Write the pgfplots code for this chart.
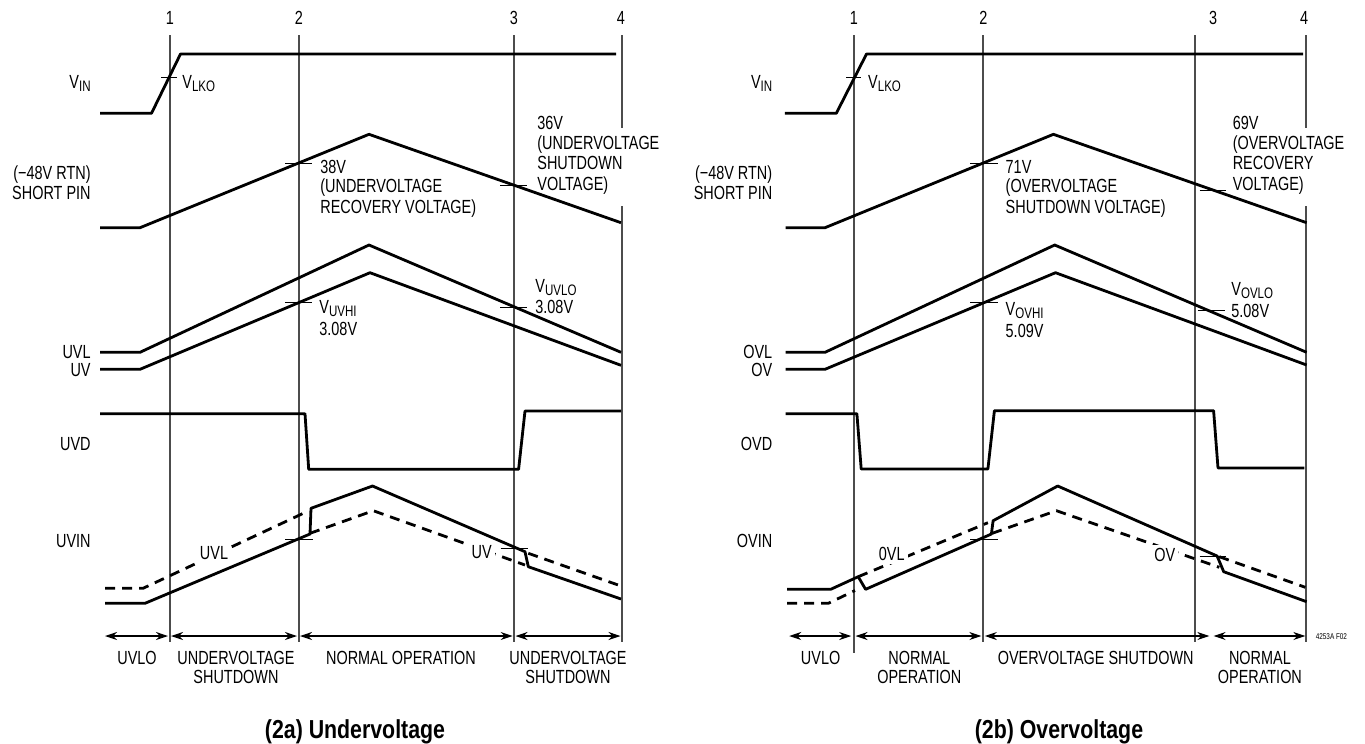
\documentclass[border=0pt]{standalone}
\usepackage{pgfplots}
\pgfplotsset{compat=1.18}
\usepackage{fontspec}
\setmainfont{Liberation Sans}[FakeStretch=0.76]
\newfontfamily\titlefont{Liberation Sans}[FakeStretch=0.82]
\usetikzlibrary{arrows.meta}
\newcommand{\sub}[1]{\raisebox{-0.3ex}{\fontsize{7.6}{8}\selectfont #1}}
\tikzset{
  trace/.style={black,line width=1.4pt,line join=round,no markers},
  dashtrace/.style={trace,dash pattern=on 5pt off 3.5pt},
  guide/.style={black!70,line width=0.6pt,no markers},
  tickl/.style={black,line width=0.5pt,no markers},
  span/.style={black,line width=0.6pt,no markers,{Stealth[length=6pt,width=4pt]}-{Stealth[length=6pt,width=4pt]}},
  lbl/.style={inner sep=0pt,font=\fontsize{9.5}{10}\selectfont},
  wl/.style={lbl,fill=white,inner sep=1.5pt},
  ttl/.style={inner sep=0pt,font=\titlefont\bfseries\fontsize{13}{14}\selectfont},
}
\begin{document}
\begin{tikzpicture}
\begin{axis}[width=682.5pt,height=371pt,scale only axis,
  xmin=0,xmax=1365,ymin=0,ymax=742,y dir=reverse,hide axis,clip=false]
% ---------- guide lines (left)
\addplot[guide] coordinates {(170,35) (170,642)};
\addplot[guide] coordinates {(299,35) (299,642)};
\addplot[guide] coordinates {(514,35) (514,642)};
\addplot[guide] coordinates {(622,35) (622,128)};
\addplot[guide] coordinates {(622,206) (622,642)};
% ---------- guide lines (right)
\addplot[guide] coordinates {(854,35) (854,653)};
\addplot[guide] coordinates {(983,35) (983,642)};
\addplot[guide] coordinates {(1195,35) (1195,642)};
\addplot[guide] coordinates {(1306,35) (1306,128)};
\addplot[guide] coordinates {(1306,206) (1306,642)};

% ================= LEFT PANEL (2a)
\addplot[trace] coordinates {(100,113.3) (151.5,113.3) (180.5,54) (616,54)};
\addplot[tickl] coordinates {(161,77.7) (177,77.7)};
\addplot[trace] coordinates {(100,227.7) (140,227.7) (369,134.3) (621,222.7)};
\addplot[tickl] coordinates {(285,163.3) (312,163.3)};
\addplot[tickl] coordinates {(500,185) (527,185)};
\addplot[trace] coordinates {(100,352.3) (140,352.3) (369,245) (621,352.3)};
\addplot[trace] coordinates {(100,369.3) (140,369.3) (370,272.7) (621,365.3)};
\addplot[tickl] coordinates {(285,302.7) (312,302.7)};
\addplot[tickl] coordinates {(500,307.7) (527,307.7)};
\addplot[trace] coordinates {(100,413.7) (305,413.7) (308.7,469.3) (518.6,469.3) (525,411) (621,411)};
% UVIN
\addplot[trace] coordinates {(105,603.3) (145,603.3) (310,534) (311,508.3) (372.5,486) (525,551.7) (528.3,566.7) (621,599)};
\addplot[dashtrace] coordinates {(105,588.3) (143,588.3) (306.7,511.7)};
\addplot[dashtrace] coordinates {(310,533.3) (373.3,510.7) (525,565)};
\addplot[dashtrace] coordinates {(528.3,553.3) (621,586)};
\addplot[tickl] coordinates {(285,539) (313,539)};
\addplot[tickl] coordinates {(500.7,548.3) (528.3,548.3)};
% spans
\addplot[span] coordinates {(105,636) (168,636)};
\addplot[span] coordinates {(171,636) (297,636)};
\addplot[span] coordinates {(300,636) (512.6,636)};
\addplot[span] coordinates {(515.5,636) (620.5,636)};

% ================= RIGHT PANEL (2b)
\addplot[trace] coordinates {(784.8,113.3) (836.3,113.3) (866.5,54) (1303,54)};
\addplot[tickl] coordinates {(846,77.7) (861.2,77.7)};
\addplot[trace] coordinates {(785.7,227.7) (825,227.7) (1053.4,134.3) (1306.6,222.7)};
\addplot[tickl] coordinates {(970.4,163.3) (997.9,163.3)};
\addplot[tickl] coordinates {(1199.7,190.7) (1225.9,190.7)};
\addplot[trace] coordinates {(785.7,352.3) (825,352.3) (1054.7,245) (1306.6,352.3)};
\addplot[trace] coordinates {(785.7,369.3) (825,369.3) (1055.5,272.7) (1306.6,365)};
\addplot[tickl] coordinates {(970.4,302.3) (997.9,302.3)};
\addplot[tickl] coordinates {(1197.5,310.5) (1225,310.5)};
\addplot[trace] coordinates {(785.7,413.7) (856.9,413.7) (861.2,469) (987.9,469) (994.4,410.7) (1213.6,410.7) (1218,468) (1304.4,468)};
% OVIN
\addplot[trace] coordinates {(787,589.3) (830.7,589.3) (858.2,576.7) (865.6,589.3) (991.4,534) (993.1,520.7) (1057.7,486) (1217.1,556) (1223.7,571.7) (1306.6,601.7)};
\addplot[dashtrace] coordinates {(787,603.3) (828.3,603.3) (855,590.5)};
\addplot[dashtrace] coordinates {(858.2,576.7) (987.9,522.7)};
\addplot[dashtrace] coordinates {(992.2,533.3) (1056.4,510.7) (1219.3,567.3)};
\addplot[dashtrace] coordinates {(1219.3,556.7) (1305.3,587.3)};
\addplot[tickl] coordinates {(970.4,539) (997.9,539)};
\addplot[tickl] coordinates {(1199.7,556) (1225.9,556)};
% spans
\addplot[span] coordinates {(789.2,636) (851.2,636)};
\addplot[span] coordinates {(855.5,636) (981.3,636)};
\addplot[span] coordinates {(984.8,636) (1209.3,636)};
\addplot[span] coordinates {(1213.6,636) (1305.3,636)};

% ================= TEXT (left)
\node[lbl,anchor=base] at (axis cs:170,24.6) {1};
\node[lbl,anchor=base] at (axis cs:299,24.6) {2};
\node[lbl,anchor=base] at (axis cs:514,24.6) {3};
\node[lbl,anchor=base] at (axis cs:621,24.6) {4};
\node[lbl,anchor=base east] at (axis cs:91,88) {V\sub{IN}};
\node[lbl,anchor=base west] at (axis cs:182,88) {V\sub{LKO}};
\node[lbl,anchor=base east] at (axis cs:91,179.6) {(−48V RTN)};
\node[lbl,anchor=base east] at (axis cs:91,199.6) {SHORT PIN};
\node[lbl,anchor=base west] at (axis cs:320,173.6) {38V};
\node[lbl,anchor=base west] at (axis cs:320,192.6) {(UNDERVOLTAGE};
\node[lbl,anchor=base west] at (axis cs:320,213.6) {RECOVERY VOLTAGE)};
\node[lbl,anchor=base west] at (axis cs:537,129.6) {36V};
\node[lbl,anchor=base west] at (axis cs:537,149.6) {(UNDERVOLTAGE};
\node[lbl,anchor=base west] at (axis cs:537,169.6) {SHUTDOWN};
\node[lbl,anchor=base west] at (axis cs:537,190.6) {VOLTAGE)};
\node[lbl,anchor=base west] at (axis cs:319,313.6) {V\sub{UVHI}};
\node[lbl,anchor=base west] at (axis cs:319,335) {3.08V};
\node[lbl,anchor=base west] at (axis cs:535,292) {V\sub{UVLO}};
\node[lbl,anchor=base west] at (axis cs:535,313) {3.08V};
\node[lbl,anchor=base east] at (axis cs:91,358.6) {UVL};
\node[lbl,anchor=base east] at (axis cs:91,376.6) {UV};
\node[lbl,anchor=base east] at (axis cs:91,450.6) {UVD};
\node[lbl,anchor=base east] at (axis cs:91,547.6) {UVIN};
\node[wl] at (axis cs:214,553) {UVL};
\node[wl] at (axis cs:481.7,552.3) {UV};
\node[lbl,anchor=base] at (axis cs:137,664.6) {UVLO};
\node[lbl,anchor=base] at (axis cs:236,664.6) {UNDERVOLTAGE};
\node[lbl,anchor=base] at (axis cs:236,683.6) {SHUTDOWN};
\node[lbl,anchor=base] at (axis cs:401,664.6) {NORMAL OPERATION};
\node[lbl,anchor=base] at (axis cs:568,664.6) {UNDERVOLTAGE};
\node[lbl,anchor=base] at (axis cs:568,683.6) {SHUTDOWN};
\node[ttl,anchor=base] at (axis cs:355,738) {(2a) Undervoltage};

% ================= TEXT (right)
\node[lbl,anchor=base] at (axis cs:854,24.6) {1};
\node[lbl,anchor=base] at (axis cs:983.5,24.6) {2};
\node[lbl,anchor=base] at (axis cs:1213,24.6) {3};
\node[lbl,anchor=base] at (axis cs:1304,24.6) {4};
\node[lbl,anchor=base east] at (axis cs:772.6,88) {V\sub{IN}};
\node[lbl,anchor=base west] at (axis cs:867.8,88) {V\sub{LKO}};
\node[lbl,anchor=base east] at (axis cs:772.6,179.6) {(−48V RTN)};
\node[lbl,anchor=base east] at (axis cs:772.6,199.6) {SHORT PIN};
\node[lbl,anchor=base west] at (axis cs:1005.3,173.6) {71V};
\node[lbl,anchor=base west] at (axis cs:1005.3,192.6) {(OVERVOLTAGE};
\node[lbl,anchor=base west] at (axis cs:1005.3,213.6) {SHUTDOWN VOLTAGE)};
\node[lbl,anchor=base west] at (axis cs:1232.4,129.6) {69V};
\node[lbl,anchor=base west] at (axis cs:1232.4,149.6) {(OVERVOLTAGE};
\node[lbl,anchor=base west] at (axis cs:1232.4,169.6) {RECOVERY};
\node[lbl,anchor=base west] at (axis cs:1232.4,190.6) {VOLTAGE)};
\node[lbl,anchor=base west] at (axis cs:1005.3,315.6) {V\sub{OVHI}};
\node[lbl,anchor=base west] at (axis cs:1005.3,337) {5.09V};
\node[lbl,anchor=base west] at (axis cs:1231,295.6) {V\sub{OVLO}};
\node[lbl,anchor=base west] at (axis cs:1231,317) {5.08V};
\node[lbl,anchor=base east] at (axis cs:772.6,358.6) {OVL};
\node[lbl,anchor=base east] at (axis cs:772.6,376.6) {OV};
\node[lbl,anchor=base east] at (axis cs:772.6,450.6) {OVD};
\node[lbl,anchor=base east] at (axis cs:772.6,547.6) {OVIN};
\node[wl] at (axis cs:891.7,554) {0VL};
\node[wl] at (axis cs:1164.7,555) {OV};
\node[inner sep=0pt,anchor=west,font=\fontsize{4.2}{5}\selectfont] at (axis cs:1315.4,636.7) {4253A F02};
\node[lbl,anchor=base] at (axis cs:820.6,664.6) {UVLO};
\node[lbl,anchor=base] at (axis cs:919.3,664.6) {NORMAL};
\node[lbl,anchor=base] at (axis cs:919.3,683.6) {OPERATION};
\node[lbl,anchor=base] at (axis cs:1095.7,664.6) {OVERVOLTAGE SHUTDOWN};
\node[lbl,anchor=base] at (axis cs:1259.9,664.6) {NORMAL};
\node[lbl,anchor=base] at (axis cs:1259.9,683.6) {OPERATION};
\node[ttl,anchor=base] at (axis cs:1059,738) {(2b) Overvoltage};
\path (rel axis cs:0,0) rectangle (rel axis cs:1,1);
\end{axis}
\end{tikzpicture}
\end{document}
